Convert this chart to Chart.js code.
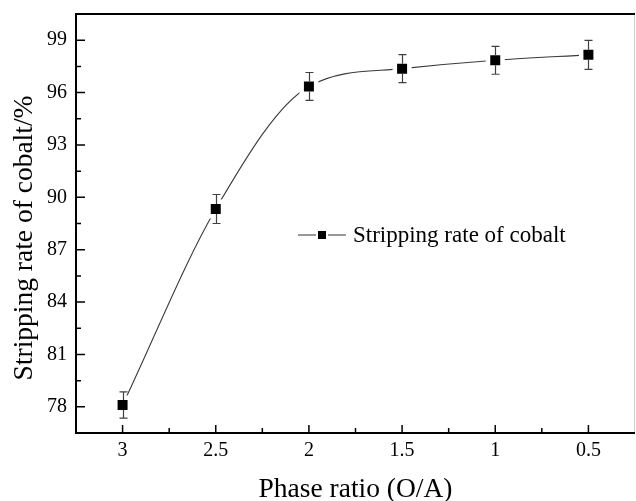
<!DOCTYPE html>
<html>
<head>
<meta charset="utf-8">
<script src="https://cdn.jsdelivr.net/npm/chart.js@4/dist/chart.umd.min.js"></script>
<style>
  html, body { margin: 0; padding: 0; background: #fff; }
  #wrap { width: 636px; height: 501px; }
</style>
</head>
<body>
<div id="wrap"><canvas id="c" width="636" height="501"></canvas></div>
<script>
// Phase ratio (O/A) and the measured cobalt stripping rate with its error
const phaseRatio    = [3, 2.5, 2, 1.5, 1, 0.5];
const strippingRate = [78.1, 89.33, 96.35, 97.37, 97.85, 98.16];
const strippingErr  = [0.75, 0.83, 0.8, 0.8, 0.8, 0.83];

// Axis ticks
const xTicks = [3, 2.5, 2, 1.5, 1, 0.5];
const xMinorTicks = [2.75, 2.25, 1.75, 1.25, 0.75];
const yTicks = [78, 81, 84, 87, 90, 93, 96, 99];
const yMinorTicks = [79.5, 82.5, 85.5, 88.5, 91.5, 94.5, 97.5];

const seriesLabel = 'Stripping rate of cobalt';
const xTitle = 'Phase ratio (O/A)';
const yTitle = 'Stripping rate of cobalt/%';

const SERIF = '"Liberation Serif", "Times New Roman", serif';
Chart.defaults.font.family = SERIF;
Chart.defaults.color = '#000';

// Error bars drawn on top of the series
const errorBars = {
  id: 'errorBars',
  afterDatasetsDraw(chart) {
    const { ctx, scales: { x, y } } = chart;
    ctx.save();
    ctx.strokeStyle = '#404040';
    ctx.lineWidth = 1.2;
    phaseRatio.forEach((v, i) => {
      const px = Math.round(x.getPixelForValue(v)) + 0.5;
      const py = y.getPixelForValue(strippingRate[i]);
      const top = y.getPixelForValue(strippingRate[i] + strippingErr[i]);
      const bot = y.getPixelForValue(strippingRate[i] - strippingErr[i]);
      ctx.beginPath();
      ctx.moveTo(px, top); ctx.lineTo(px, py - 5);
      ctx.moveTo(px, py + 5); ctx.lineTo(px, bot);
      ctx.moveTo(px - 4, top); ctx.lineTo(px + 4, top);
      ctx.moveTo(px - 4, bot); ctx.lineTo(px + 4, bot);
      ctx.stroke();
    });
    ctx.restore();
  }
};

// Box frame with inward major/minor ticks, axis titles and the legend
const frame = {
  id: 'frame',
  afterDraw(chart) {
    const { ctx, chartArea: a, scales: { x, y } } = chart;
    ctx.save();
    // light right edge
    ctx.strokeStyle = '#d4d4d4';
    ctx.lineWidth = 1;
    ctx.beginPath();
    ctx.moveTo(a.right - 0.5, a.top); ctx.lineTo(a.right - 0.5, a.bottom);
    ctx.stroke();

    ctx.strokeStyle = '#000';
    ctx.lineWidth = 2;
    ctx.beginPath();
    ctx.moveTo(a.left, a.top); ctx.lineTo(a.right, a.top);
    ctx.moveTo(a.left, a.top - 1); ctx.lineTo(a.left, a.bottom + 1);
    ctx.moveTo(a.left - 1, a.bottom); ctx.lineTo(a.right, a.bottom);
    ctx.stroke();

    ctx.lineWidth = 1.5;
    ctx.beginPath();
    yTicks.forEach(v => { const p = y.getPixelForValue(v); ctx.moveTo(a.left, p); ctx.lineTo(a.left + 9, p); });
    yMinorTicks.forEach(v => { const p = y.getPixelForValue(v); ctx.moveTo(a.left, p); ctx.lineTo(a.left + 5, p); });
    xTicks.forEach(v => { const p = x.getPixelForValue(v); ctx.moveTo(p, a.bottom); ctx.lineTo(p, a.bottom - 8); });
    xMinorTicks.forEach(v => { const p = x.getPixelForValue(v); ctx.moveTo(p, a.bottom); ctx.lineTo(p, a.bottom - 5); });
    ctx.stroke();

    // axis titles
    ctx.fillStyle = '#000';
    ctx.font = '27.5px ' + SERIF;
    ctx.textAlign = 'center';
    ctx.textBaseline = 'alphabetic';
    ctx.fillText(xTitle, (a.left + a.right) / 2, 497);

    ctx.save();
    ctx.translate(32, 238);
    ctx.rotate(-Math.PI / 2);
    ctx.font = '27.5px ' + SERIF;
    ctx.fillText(yTitle, 0, 0);
    ctx.restore();

    // legend
    const ly = 235;
    ctx.strokeStyle = '#333';
    ctx.lineWidth = 1.2;
    ctx.beginPath();
    ctx.moveTo(298, ly); ctx.lineTo(316, ly);
    ctx.moveTo(328, ly); ctx.lineTo(346, ly);
    ctx.stroke();
    ctx.fillStyle = '#000';
    ctx.fillRect(318, ly - 4, 8, 8);
    ctx.font = '23px ' + SERIF;
    ctx.textAlign = 'left';
    ctx.textBaseline = 'middle';
    ctx.fillText(seriesLabel, 353, ly + 1);
    ctx.restore();
  }
};

const tickFont = { family: SERIF, size: 20 };

new Chart(document.getElementById('c'), {
  type: 'line',
  data: {
    datasets: [{
      label: seriesLabel,
      data: phaseRatio.map((v, i) => ({ x: v, y: strippingRate[i] })),
      borderColor: '#3a3a3a',
      borderWidth: 1.1,
      cubicInterpolationMode: 'monotone',
      pointStyle: 'rect',
      pointRadius: 10.25,
      pointHoverRadius: 10.25,
      pointBackgroundColor: '#000',
      pointBorderColor: '#fff',
      pointBorderWidth: 4.5,
      fill: false
    }]
  },
  options: {
    responsive: false,
    devicePixelRatio: 1,
    animation: false,
    events: [],
    layout: { autoPadding: false, padding: { top: 14, right: 1, left: 0, bottom: 0 } },
    plugins: { legend: { display: false }, tooltip: { enabled: false } },
    scales: {
      x: {
        type: 'linear',
        reverse: true,
        min: 0.25,
        max: 3.25,
        afterBuildTicks: s => { s.ticks = xTicks.map(v => ({ value: v })); },
        afterFit: s => { s.height = 68; s.paddingLeft = 0; s.paddingRight = 0; },
        grid: { display: false, drawTicks: false },
        border: { display: false },
        ticks: { font: tickFont, padding: 6, maxRotation: 0, autoSkip: false, color: '#000',
                 callback: v => String(v) }
      },
      y: {
        type: 'linear',
        min: 76.5,
        max: 100.5,
        afterBuildTicks: s => { s.ticks = yTicks.map(v => ({ value: v })); },
        afterFit: s => { s.width = 76; s.paddingTop = 0; s.paddingBottom = 0; },
        grid: { display: false, drawTicks: false },
        border: { display: false },
        ticks: { font: tickFont, padding: 9, autoSkip: false, color: '#000',
                 callback: v => String(v) }
      }
    }
  },
  plugins: [errorBars, frame]
});
</script>
</body>
</html>
